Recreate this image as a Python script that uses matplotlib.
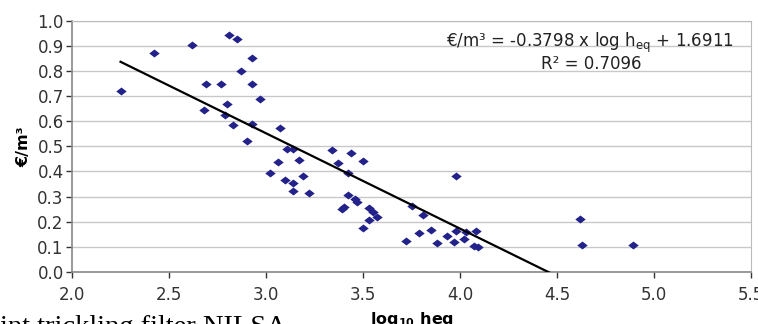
import numpy as np
import matplotlib
matplotlib.use('Agg')
import matplotlib.pyplot as plt

plt.rcParams['font.family'] = ['DejaVu Sans']

# log10 heq
log_heq = [2.25, 2.42, 2.62, 2.81, 2.85, 2.93, 2.87, 2.69, 2.77, 2.93,
           2.97, 2.80, 2.68, 2.79, 2.83, 2.93, 2.90, 3.07, 3.11, 3.14,
           3.17, 3.06, 3.02, 3.10, 3.14, 3.19, 3.14, 3.22, 3.34, 3.44,
           3.37, 3.50, 3.42, 3.42, 3.46, 3.47, 3.40, 3.39, 3.53, 3.55,
           3.57, 3.53, 3.50, 3.75, 3.81, 3.85, 3.79, 3.72, 3.98, 3.88,
           3.93, 3.98, 3.97, 4.02, 4.03, 4.08, 4.07, 4.09, 4.62, 4.63,
           4.89]
# euro per m3
eur_m3 = [0.72, 0.87, 0.905, 0.942, 0.926, 0.85, 0.80, 0.75, 0.75, 0.75,
          0.69, 0.67, 0.644, 0.624, 0.583, 0.59, 0.52, 0.573, 0.49, 0.49,
          0.445, 0.437, 0.393, 0.365, 0.352, 0.38, 0.32, 0.314, 0.485, 0.472,
          0.432, 0.44, 0.393, 0.305, 0.29, 0.28, 0.258, 0.25, 0.253, 0.237,
          0.218, 0.206, 0.174, 0.264, 0.226, 0.168, 0.154, 0.122, 0.381, 0.114,
          0.142, 0.162, 0.118, 0.13, 0.158, 0.162, 0.102, 0.098, 0.21, 0.106,
          0.106]

slope = -0.3798
intercept = 1.6911

fig = plt.figure(figsize=(7.58, 3.24), dpi=100)
ax = fig.add_axes([0.095, 0.161, 0.896, 0.775])

# excel style diamond, a bit wider than tall
diamond = [(-1.3, 0), (0, 1), (1.3, 0), (0, -1), (-1.3, 0)]
ax.scatter(log_heq, eur_m3, marker=diamond, s=56, color='#22228a', zorder=3, linewidths=0)

xl = np.linspace(min(log_heq), max(log_heq), 100)
ax.plot(xl, slope * xl + intercept, color='black', linewidth=1.6, zorder=4)

ax.set_xlim(2.0, 5.5)
ax.set_ylim(0.0, 1.0)
ax.set_xticks(np.arange(2.0, 5.51, 0.5))
ax.set_yticks(np.arange(0.0, 1.01, 0.1))
ax.xaxis.set_major_formatter(matplotlib.ticker.FormatStrFormatter('%.1f'))
ax.yaxis.set_major_formatter(matplotlib.ticker.FormatStrFormatter('%.1f'))
ax.tick_params(labelsize=12, colors='#333333', length=4, width=1, direction='out')
ax.tick_params(axis='x', pad=6)
ax.tick_params(axis='y', pad=2)
ax.grid(axis='y', color='#c8c8c8', linewidth=1)
ax.set_axisbelow(True)
for s in ['top', 'right']:
    ax.spines[s].set_color('#bbbbbb')
for s in ['left', 'bottom']:
    ax.spines[s].set_color('#888888')
    ax.spines[s].set_linewidth(1.2)

ax.set_ylabel('€/m³', fontsize=11.5, fontweight='bold', labelpad=4)
ax.xaxis.set_label_coords(0.475, -0.15)
ax.set_xlabel('log$_{\\mathbf{10}}$ heq', fontsize=11.5, fontweight='bold', va='top')

ax.text(0.975, 0.96, '€/m³ = -0.3798 x log h$_{\\mathrm{eq}}$ + 1.6911', transform=ax.transAxes,
        ha='right', va='top', fontsize=12, color='#222222')
ax.text(0.765, 0.865, 'R² = 0.7096', transform=ax.transAxes,
        ha='center', va='top', fontsize=12, color='#222222')

fig.text(0.0, 0.027, 'int trickling filter NILSA', ha='left', va='top',
         fontsize=20.5, family=['Liberation Serif', 'DejaVu Serif'])

fig.savefig('out.png', dpi=100)
